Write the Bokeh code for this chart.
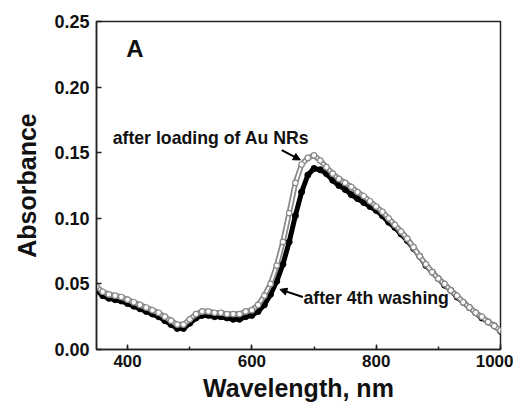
from bokeh.plotting import figure
from bokeh.embed import file_html
from bokeh.resources import INLINE
from bokeh.models import SingleIntervalTicker, NumeralTickFormatter, Range1d, Arrow, NormalHead, Label

wavelength = list(range(350, 1001, 10))

after_loading = [
    0.048, 0.044, 0.042, 0.041, 0.040, 0.038, 0.036, 0.034, 0.032, 0.030,
    0.028, 0.025, 0.022, 0.019, 0.019, 0.023, 0.027, 0.029, 0.029, 0.028,
    0.028, 0.027, 0.027, 0.027, 0.029, 0.030, 0.034, 0.041, 0.050, 0.064,
    0.082, 0.104, 0.127, 0.141, 0.146, 0.148, 0.144, 0.139, 0.134, 0.130,
    0.127, 0.124, 0.120, 0.117, 0.113, 0.109, 0.105, 0.100, 0.095, 0.090,
    0.0845, 0.078, 0.071, 0.065, 0.059, 0.054, 0.050, 0.045, 0.041, 0.036,
    0.032, 0.028, 0.025, 0.021, 0.018, 0.0145,
]

after_washing = [
    0.045, 0.041, 0.039, 0.038, 0.037, 0.035, 0.033, 0.031, 0.029, 0.027,
    0.025, 0.022, 0.019, 0.016, 0.016, 0.020, 0.024, 0.026, 0.026, 0.025,
    0.025, 0.024, 0.023, 0.023, 0.025, 0.026, 0.029, 0.034, 0.042, 0.052,
    0.065, 0.082, 0.102, 0.120, 0.133, 0.138, 0.137, 0.134, 0.129, 0.125,
    0.122, 0.118, 0.115, 0.112, 0.109, 0.106, 0.102, 0.097, 0.093, 0.088,
    0.083, 0.077, 0.071, 0.064, 0.059, 0.054, 0.049, 0.045, 0.040, 0.036,
    0.032, 0.028, 0.024, 0.021, 0.018, 0.014,
]

x_ticks_interval = 200
y_ticks_interval = 0.05

FONT = "Liberation Sans"

p = figure(
    width=513, height=400,
    x_range=Range1d(350, 1000), y_range=Range1d(0, 0.25),
    output_backend="svg", toolbar_location=None,
    min_border_left=96, min_border_right=13, min_border_top=21, min_border_bottom=51,
)
p.frame_width = 404
p.frame_height = 328
p.grid.visible = False
p.background_fill_color = "white"
p.border_fill_color = "white"
p.outline_line_color = "#222222"
p.outline_line_width = 1.5

p.xaxis.ticker = SingleIntervalTicker(interval=x_ticks_interval, num_minor_ticks=2)
p.yaxis.ticker = SingleIntervalTicker(interval=y_ticks_interval, num_minor_ticks=0)
p.yaxis.formatter = NumeralTickFormatter(format="0.00")

for ax in (p.xaxis[0], p.yaxis[0]):
    ax.axis_line_color = "#222222"
    ax.axis_line_width = 1.5
    ax.major_tick_in = 5
    ax.major_tick_out = 0
    ax.minor_tick_in = 3
    ax.minor_tick_out = 0
    ax.major_tick_line_color = "#222222"
    ax.minor_tick_line_color = "#222222"
    ax.major_tick_line_width = 1.5
    ax.minor_tick_line_width = 1.5
    ax.major_label_text_font = FONT
    ax.major_label_text_font_style = "bold"
    ax.major_label_text_color = "#111111"
    ax.axis_label_text_font = FONT
    ax.axis_label_text_font_style = "bold"
    ax.axis_label_text_font_size = "25px"
    ax.axis_label_text_color = "#111111"

p.xaxis.major_label_text_font_size = "17px"
p.yaxis.major_label_text_font_size = "18px"
p.xaxis.axis_label = "Wavelength, nm"
p.yaxis.axis_label = "Absorbance"
p.xaxis.major_label_standoff = 5
p.xaxis.axis_label_standoff = 4
p.yaxis.major_label_standoff = 7
p.yaxis.axis_label_standoff = 10

# after 4th washing: filled black circles
p.line(wavelength, after_washing, line_color="black", line_width=5)
p.scatter(wavelength, after_washing, size=6, fill_color="black", line_color="black")

# after loading: open gray circles
p.line(wavelength, after_loading, line_color="#8a8a8a", line_width=5.5)
p.line(wavelength, after_loading, line_color="white", line_width=2)
p.scatter(wavelength, after_loading, size=5.5, fill_color="white", line_color="#8a8a8a", line_width=1.2)

p.add_layout(Label(x=398, y=0.2298, text="A", text_font=FONT, text_font_style="bold",
                   text_font_size="24px", text_color="#111111", text_baseline="middle"))
p.add_layout(Label(x=376, y=0.161, text="after loading of Au NRs", text_font=FONT,
                   text_font_style="bold", text_font_size="17.7px", text_color="#111111",
                   text_baseline="middle"))
p.add_layout(Label(x=683, y=0.039, text="after 4th washing", text_font=FONT,
                   text_font_style="bold", text_font_size="17.7px", text_color="#111111",
                   text_baseline="middle"))

p.add_layout(Arrow(x_start=648, y_start=0.152, x_end=678, y_end=0.1445,
                   line_color="black", line_width=2,
                   end=NormalHead(size=7, fill_color="black", line_color="black")))
p.add_layout(Arrow(x_start=682, y_start=0.040, x_end=645, y_end=0.0458,
                   line_color="black", line_width=2,
                   end=NormalHead(size=7, fill_color="black", line_color="black")))

open("out.html", "w").write(file_html(p, INLINE))
